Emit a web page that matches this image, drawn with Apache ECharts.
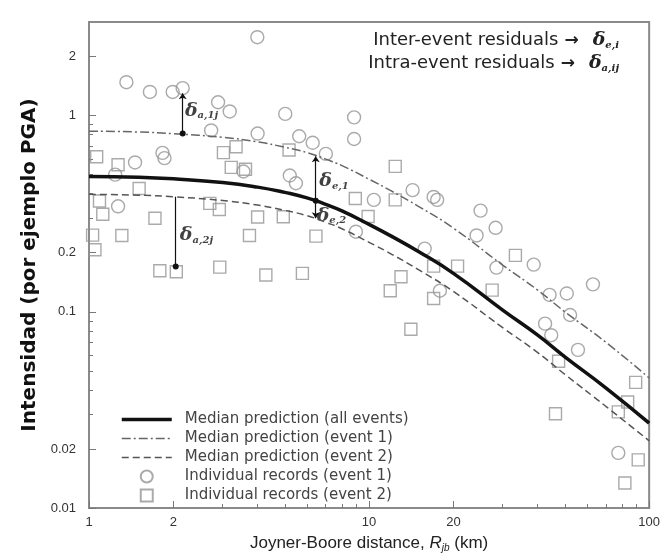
<!DOCTYPE html>
<html>
<head>
<meta charset="utf-8">
<script src="https://cdn.jsdelivr.net/npm/echarts@6/dist/echarts.min.js"></script>
<style>
  html, body { margin: 0; padding: 0; background: #fff; }
  #chart { width: 663px; height: 558px; }
</style>
</head>
<body>
<div id="chart"></div>
<script>
// median predictions
const distances = [1, 1.5, 2, 3, 4, 5, 6, 7, 8, 10, 12, 15, 20, 30, 40, 50, 70, 100];
const medianAll = [0.49, 0.485, 0.476, 0.456, 0.432, 0.406, 0.381, 0.353, 0.327, 0.279, 0.243, 0.203, 0.157, 0.102, 0.076, 0.059, 0.041, 0.0271];
const medianEvent1 = [0.833, 0.825, 0.809, 0.775, 0.734, 0.69, 0.648, 0.6, 0.556, 0.474, 0.413, 0.345, 0.267, 0.173, 0.129, 0.1, 0.07, 0.046];
const medianEvent2 = [0.397, 0.393, 0.386, 0.369, 0.35, 0.329, 0.309, 0.286, 0.265, 0.226, 0.197, 0.164, 0.127, 0.083, 0.062, 0.048, 0.033, 0.022];

// individual records
const event1Dist = [3.99, 1.36, 1.65, 1.99, 2.16, 2.89, 3.18, 5.02, 8.84, 8.84, 2.73, 4.0, 5.63, 6.29, 7.01, 1.46, 1.86, 1.83, 1.24, 1.27, 3.56, 5.21, 5.48, 14.3, 17.0, 17.5, 10.4, 25.0, 28.3, 24.2, 8.97, 15.8, 38.7, 28.5, 17.9, 44.1, 50.8, 63.0, 52.2, 42.5, 44.7, 55.7, 77.6];
const event1Int = [2.51, 1.48, 1.32, 1.32, 1.38, 1.17, 1.05, 1.02, 0.98, 0.76, 0.84, 0.81, 0.785, 0.727, 0.638, 0.577, 0.607, 0.646, 0.5, 0.345, 0.519, 0.495, 0.452, 0.417, 0.385, 0.372, 0.372, 0.328, 0.268, 0.245, 0.256, 0.21, 0.174, 0.168, 0.128, 0.122, 0.124, 0.138, 0.0963, 0.087, 0.076, 0.064, 0.0191];
const event2Dist = [1.065, 1.27, 1.51, 1.09, 1.12, 1.72, 1.03, 1.31, 1.05, 3.02, 3.35, 3.22, 3.62, 2.7, 2.92, 4.0, 4.94, 3.74, 6.46, 5.18, 1.79, 2.05, 2.93, 4.28, 5.78, 8.93, 12.4, 12.4, 9.92, 33.3, 20.7, 17.0, 13.0, 11.9, 17.0, 27.5, 14.1, 47.5, 89.5, 83.8, 77.6, 46.3, 91.4, 81.9];
const event2Int = [0.617, 0.562, 0.425, 0.367, 0.314, 0.3, 0.246, 0.245, 0.207, 0.648, 0.694, 0.545, 0.533, 0.357, 0.332, 0.304, 0.305, 0.245, 0.243, 0.668, 0.162, 0.16, 0.169, 0.154, 0.157, 0.378, 0.551, 0.372, 0.306, 0.194, 0.171, 0.171, 0.151, 0.128, 0.117, 0.129, 0.0815, 0.056, 0.0437, 0.0347, 0.0309, 0.0302, 0.0176, 0.0134];

// tick labels
const xTickLabels = [1, 2, 10, 20, 100];
const xMinorTicks = [3, 4, 5, 6, 7, 8, 9, 30, 40, 50, 60, 70, 80, 90];
const yTickLabels = [0.01, 0.02, 0.1, 0.2, 1, 2];
const yMinorTicks = [0.03, 0.04, 0.05, 0.06, 0.07, 0.08, 0.09, 0.3, 0.4, 0.5, 0.6, 0.7, 0.8, 0.9];

// residual arrows: [distance, from, to]
const arrowA1 = [2.16, 0.81, 1.3];
const arrowA2 = [2.04, 0.386, 0.17];
const arrowE1 = [6.45, 0.368, 0.62];
const arrowE2 = [6.45, 0.368, 0.3];

const legendNames = [
  'Median prediction (all events)',
  'Median prediction (event 1)',
  'Median prediction (event 2)',
  'Individual records (event 1)',
  'Individual records (event 2)'
];

const zip = (a, b) => a.map((v, i) => [v, b[i]]);
const fmt = v => String(+(+v).toPrecision(3));

const deltaRich = {
  d: { fontFamily: 'DejaVu Serif', fontStyle: 'italic', fontWeight: 'bold', fontSize: 19, color: '#111' },
  s: { fontFamily: 'DejaVu Serif', fontStyle: 'italic', fontWeight: 'bold', fontSize: 10, color: '#111', padding: [10, 0, 0, 0] },
  a: { fontFamily: 'DejaVu Sans', fontSize: 17, fontWeight: 'bold', color: '#222', padding: [0, 14, 0, 6] }
};

const solidStyle = { color: '#111', width: 3.5 };
const event1Style = { color: '#666', width: 1.5, type: [9, 3, 2, 3] };
const event2Style = { color: '#555', width: 1.5, type: [7, 4] };

const chart = echarts.init(document.getElementById('chart'));

function arrowLine(a, startSym, endSym) {
  return [
    { coord: [a[0], a[1]], symbol: startSym },
    { coord: [a[0], a[2]], symbol: endSym }
  ];
}

const option = {
  animation: false,
  backgroundColor: '#fff',
  grid: { left: 89, right: 12, top: 22, bottom: 43, show: true, borderColor: '#8a8a8a', borderWidth: 2 },
  xAxis: [{
    type: 'log', min: 1, max: 100, position: 'bottom',
    axisLine: { lineStyle: { color: '#8a8a8a', width: 2 } },
    axisTick: { inside: true, length: 7, customValues: xTickLabels, lineStyle: { color: '#777' } },
    axisLabel: { customValues: xTickLabels, color: '#333', fontSize: 13, margin: 8, formatter: fmt },
    splitLine: { show: false },
    name: 'Joyner-Boore distance, {i|R}{sub|jb} (km)',
    nameLocation: 'middle', nameGap: 26,
    nameTextStyle: {
      fontFamily: 'Liberation Sans', fontSize: 17, color: '#222',
      rich: {
        i: { fontFamily: 'Liberation Sans', fontStyle: 'italic', fontSize: 17, color: '#222' },
        sub: { fontFamily: 'Liberation Sans', fontStyle: 'italic', fontSize: 10, color: '#222', padding: [9, 0, 0, 0] }
      }
    }
  }, {
    type: 'log', min: 1, max: 100, position: 'bottom',
    axisLine: { show: false },
    axisTick: { inside: true, length: 4, customValues: xMinorTicks, lineStyle: { color: '#777' } },
    axisLabel: { show: false },
    splitLine: { show: false }
  }],
  yAxis: [{
    type: 'log', min: 0.01, max: 3, position: 'left',
    axisLine: { lineStyle: { color: '#8a8a8a', width: 2 } },
    axisTick: { inside: true, length: 7, customValues: yTickLabels, lineStyle: { color: '#777' } },
    axisLabel: { customValues: yTickLabels, color: '#333', fontSize: 13, margin: 13, formatter: fmt },
    splitLine: { show: false },
    name: 'Intensidad (por ejemplo PGA)',
    nameLocation: 'middle', nameGap: 47,
    nameTextStyle: { fontFamily: 'DejaVu Sans', fontSize: 20, fontWeight: 'bold', color: '#111' }
  }, {
    type: 'log', min: 0.01, max: 3, position: 'left',
    axisLine: { show: false },
    axisTick: { inside: true, length: 4, customValues: yMinorTicks, lineStyle: { color: '#777' } },
    axisLabel: { show: false },
    splitLine: { show: false }
  }],
  legend: {
    data: [
      { name: legendNames[0], itemStyle: { opacity: 0 }, lineStyle: solidStyle },
      { name: legendNames[1], itemStyle: { opacity: 0 }, lineStyle: event1Style },
      { name: legendNames[2], itemStyle: { opacity: 0 }, lineStyle: event2Style },
      { name: legendNames[3] },
      { name: legendNames[4] }
    ],
    orient: 'vertical', left: 115, top: 407,
    itemWidth: 50, itemHeight: 12, itemGap: 4,
    textStyle: { fontFamily: 'DejaVu Sans', fontSize: 15, color: '#444', padding: [0, 0, 0, 8] }
  },
  graphic: [{
    type: 'text', right: 44, top: 31,
    style: {
      text: 'Inter-event residuals{a|\u2192}{d|\u03b4}{s|e,i}',
      font: '18px "DejaVu Sans"', fill: '#222', align: 'right',
      rich: deltaRich
    }
  }, {
    type: 'text', right: 44, top: 54,
    style: {
      text: 'Intra-event residuals{a|\u2192}{d|\u03b4}{s|a,ij}',
      font: '18px "DejaVu Sans"', fill: '#222', align: 'right',
      rich: deltaRich
    }
  }],
  series: [{
    name: legendNames[3], type: 'scatter', symbol: 'circle', symbolSize: 13,
    data: zip(event1Dist, event1Int),
    itemStyle: { color: 'rgba(255,255,255,0)', borderColor: '#959595', borderWidth: 1.4 }
  }, {
    name: legendNames[4], type: 'scatter', symbol: 'path://M0,0H10V10H0Z', symbolKeepAspect: true, symbolSize: 12,
    data: zip(event2Dist, event2Int),
    itemStyle: { color: 'rgba(255,255,255,0)', borderColor: '#959595', borderWidth: 1.4 }
  }, {
    name: legendNames[0], type: 'line', symbol: 'none', smooth: true,
    data: zip(distances, medianAll),
    itemStyle: { color: '#111' },
    lineStyle: solidStyle
  }, {
    name: legendNames[1], type: 'line', symbol: 'none', smooth: true,
    data: zip(distances, medianEvent1),
    itemStyle: { color: '#666' },
    lineStyle: event1Style
  }, {
    name: legendNames[2], type: 'line', symbol: 'none', smooth: true,
    data: zip(distances, medianEvent2),
    itemStyle: { color: '#555' },
    lineStyle: event2Style
  }, {
    name: 'residuals', type: 'line', data: [],
    markLine: {
      silent: true, symbolSize: 6,
      lineStyle: { color: '#111', width: 1.2, type: 'solid' },
      label: { show: false },
      data: [
        arrowLine(arrowA1, 'circle', 'arrow'),
        arrowLine(arrowA2, 'none', 'circle'),
        arrowLine(arrowE1, 'circle', 'arrow'),
        arrowLine(arrowE2, 'none', 'arrow')
      ]
    }
  }, {
    name: 'labels', type: 'scatter', symbolSize: 0,
    data: [
      [2.2, 1.06, 'a,1j'],
      [6.64, 0.462, 'e,1'],
      [6.5, 0.309, 'e,2'],
      [2.11, 0.246, 'a,2j']
    ],
    label: {
      show: true, position: 'right', distance: 0,
      formatter: p => '{d|\u03b4}{s|' + p.data[2] + '}',
      rich: deltaRich
    }
  }]
};

chart.setOption(option);
</script>
</body>
</html>
